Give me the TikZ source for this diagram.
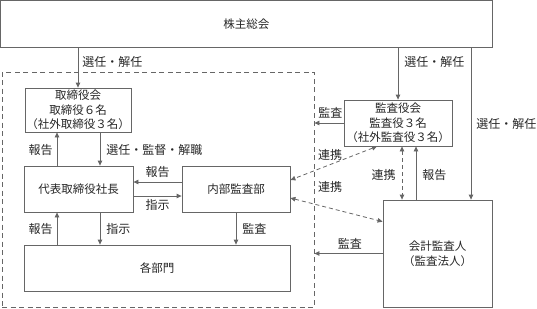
\documentclass[tikz,border=0pt]{standalone}
\usepackage{fontspec}
\setmainfont{Noto Sans CJK JP}
\usetikzlibrary{arrows.meta,calc}
\definecolor{linegray}{gray}{0.4}
\definecolor{textgray}{gray}{0.15}

\begin{document}
\begin{tikzpicture}[x=1pt, y=-1pt,
  box/.style={draw=linegray, line width=0.8pt, text=textgray, align=center,
    inner sep=0pt, font=\fontsize{11.5}{14.5}\selectfont},
  lbl/.style={text=textgray, inner sep=1pt, font=\fontsize{12}{14}\selectfont},
  arr/.style={draw=linegray, line width=0.8pt, -{Triangle[length=5pt,width=4.5pt]}},
  link/.style={arr, {Triangle[length=5pt,width=4.5pt]}-{Triangle[length=5pt,width=4.5pt]},
    dash pattern=on 4pt off 3pt}]
\useasboundingbox (0,0) rectangle (537,308);
% boxes
\node[box, minimum width=491.5pt, minimum height=46.5pt] (gm) at (246.25,23.75) {株主総会};
\node[draw=linegray, line width=0.8pt, dash pattern=on 5pt off 3.5pt, inner sep=0pt,
  minimum width=312pt, minimum height=235pt] (frame) at (158,189.5) {};
\node[box, minimum width=106pt, minimum height=44pt] (board) at (78,110)
  {取締役会\\取締役６名\\（社外取締役３名）};
\node[box, minimum width=109pt, minimum height=46pt] (ceo) at (78.5,189) {代表取締役社長};
\node[box, minimum width=108pt, minimum height=46pt] (iaudit) at (236,189) {内部監査部};
\node[box, minimum width=266pt, minimum height=46pt] (depts) at (157,268) {各部門};
\node[box, minimum width=108pt, minimum height=46pt] (kab) at (398,123)
  {監査役会\\監査役３名\\（社外監査役３名）};
\node[box, minimum width=109pt, minimum height=107pt] (acct) at (437.5,253.5)
  {会計監査人\\（監査法人）};
% helper lines
\coordinate (xl) at (57,0);
\coordinate (xr) at (100,0);
\coordinate (xd) at (402,0);
\coordinate (xu) at (416,0);
\coordinate (xo) at (471,0);
\coordinate (ya) at (0,182);
\coordinate (yb) at (0,196);
% connectors
\draw[arr] (gm.south -| board.north) -- node[lbl, pos=0.36, right=3pt] {選任・解任} (board.north);
\draw[arr] (gm.south -| kab.north) -- node[lbl, pos=0.28, right=5pt] {選任・解任} (kab.north);
\draw[arr] (gm.south -| xo) -- node[lbl, right=4pt] {選任・解任} (acct.north -| xo);
\draw[arr] (ceo.north -| xl) -- node[lbl, pos=0.47, left=3pt] {報告} (board.south -| xl);
\draw[arr] (board.south -| xr) -- node[lbl, pos=0.53, right=5pt] {選任・監督・解職} (ceo.north -| xr);
\draw[arr] (iaudit.west |- ya) -- node[lbl, above=3pt] {報告} (ceo.east |- ya);
\draw[arr] (ceo.east |- yb) -- node[lbl, below=2pt] {指示} (iaudit.west |- yb);
\draw[arr] (depts.north -| xl) -- node[lbl, left=3pt] {報告} (ceo.south -| xl);
\draw[arr] (ceo.south -| xr) -- node[lbl, right=5pt] {指示} (depts.north -| xr);
\draw[arr] (iaudit.south) -- node[lbl, right=5pt] {監査} (depts.north -| iaudit.south);
\draw[arr] (kab.west) -- node[lbl, pos=0.45, above=3pt] {監査} (frame.east |- kab.west);
\draw[arr] (acct.west) -- node[lbl, pos=0.48, above=3pt] {監査} (frame.east |- acct.west);
\draw[link] ($(kab.south)+(-21,0)$) -- ($(iaudit.east)+(0,-9)$);
\draw[link] ($(iaudit.east)+(0,9)$) -- ($(acct.north west)+(0,22)$);
\node[lbl, anchor=west] (lk1) at (317,155) {連携};
\node[lbl, anchor=west] (lk2) at (317,187) {連携};
\draw[link] (kab.south -| xd) -- node[lbl, pos=0.54, left=5pt] {連携} (acct.north -| xd);
\draw[arr] (acct.north -| xu) -- node[lbl, pos=0.46, right=5pt] {報告} (kab.south -| xu);
\end{tikzpicture}
\end{document}
